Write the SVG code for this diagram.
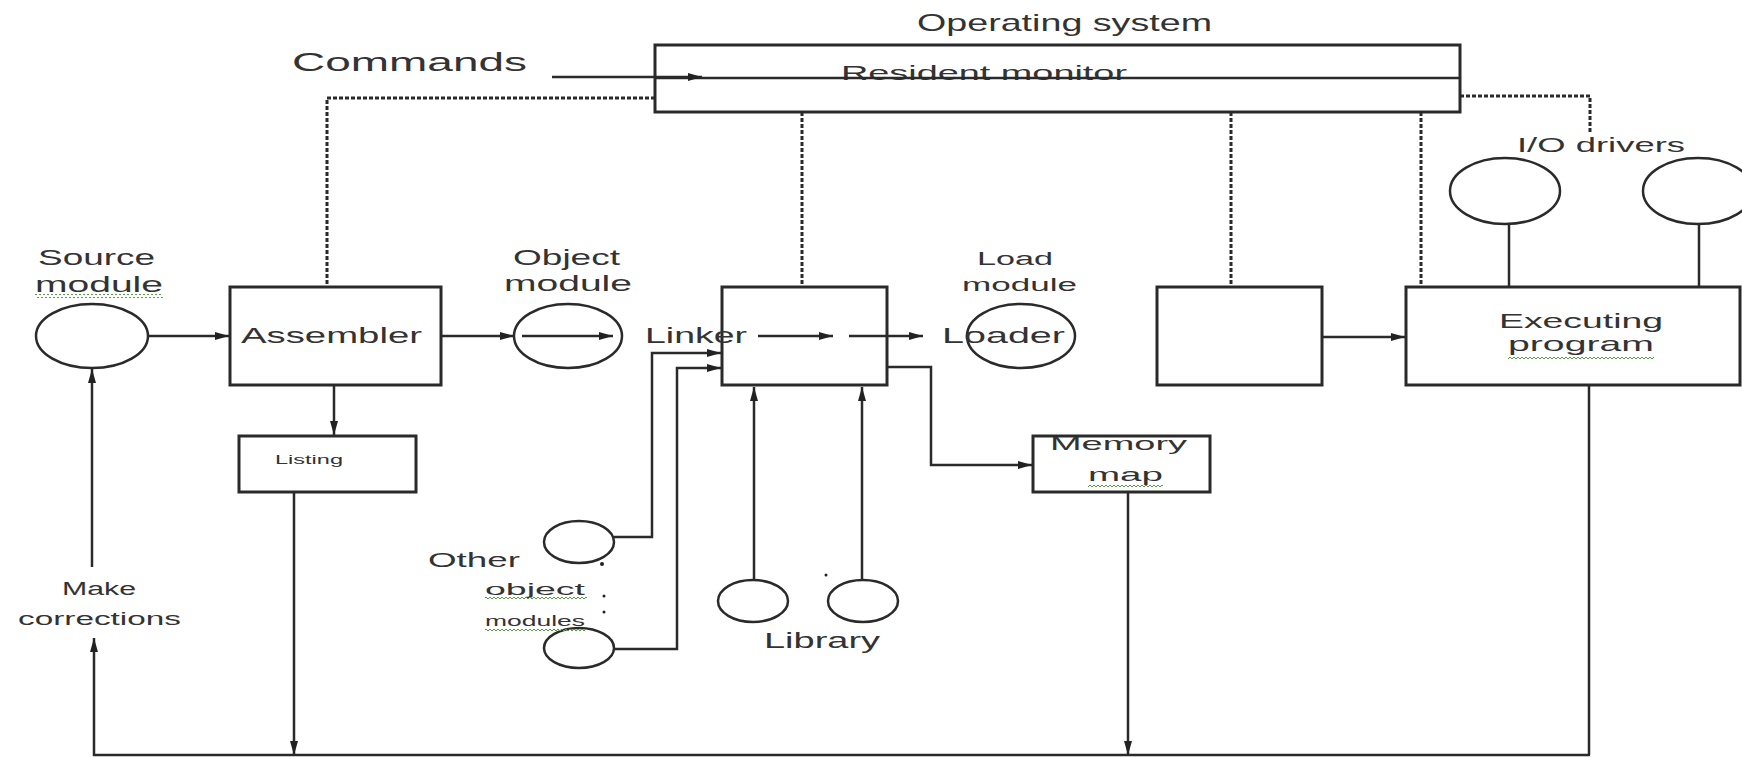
<svg xmlns="http://www.w3.org/2000/svg" width="1742" height="757" viewBox="0 0 1742 757">
<defs>
<marker id="ah" viewBox="0 0 14 8" refX="14" refY="4" markerWidth="14" markerHeight="8" markerUnits="userSpaceOnUse" orient="auto">
<path d="M0,0 L14,4 L0,8 z" fill="#222"/>
</marker>
<pattern id="sq" width="4" height="4" patternUnits="userSpaceOnUse">
<path d="M0,3 L2,1 L4,3" fill="none" stroke="#5a9a4a" stroke-width="1"/>
</pattern>
</defs>
<style>
.bx{fill:#fff;stroke:#2a2a2a;stroke-width:3}
.el{fill:#fff;stroke:#2a2a2a;stroke-width:2.5}
.ln{fill:none;stroke:#2a2a2a;stroke-width:2.5}
.ar{fill:none;stroke:#2a2a2a;stroke-width:2.5;marker-end:url(#ah)}
.ds{fill:none;stroke:#2a2a2a;stroke-width:3;stroke-dasharray:4 2}
.t{font-family:"Liberation Sans",Arial,sans-serif;fill:#333}
.sq{fill:url(#sq)}
</style>
<rect width="1742" height="757" fill="#fff"/>

<g id="os">
<text class="t" x="917" y="31" font-size="24" textLength="295" lengthAdjust="spacingAndGlyphs">Operating system</text>
<rect x="655" y="45" width="805" height="67" fill="none" stroke="#2a2a2a" stroke-width="3"/>
<text class="t" x="841" y="80" font-size="21" textLength="286" lengthAdjust="spacingAndGlyphs">Resident monitor</text>
<line class="ln" x1="655" y1="78" x2="1460" y2="78" stroke-width="3"/>
</g>

<g id="connectors">
<!-- commands -->
<line class="ar" x1="552" y1="77" x2="702" y2="77"/>
<!-- dashed OS links -->
<polyline class="ds" points="655,98 327,98 327,286"/>
<line class="ds" x1="802" y1="112" x2="802" y2="286"/>
<line class="ds" x1="1231" y1="112" x2="1231" y2="286"/>
<line class="ds" x1="1421" y1="112" x2="1421" y2="286"/>
<polyline class="ds" points="1460,96 1590,96 1590,132"/>
<!-- main flow -->
<line class="ar" x1="148" y1="336" x2="229" y2="336"/>
<line class="ar" x1="441" y1="336" x2="514" y2="336"/>
<line class="ar" x1="522" y1="336" x2="613" y2="336"/>
<line class="ar" x1="758" y1="336" x2="833" y2="336"/>
<line class="ar" x1="849" y1="336" x2="923" y2="336"/>
<line class="ar" x1="334" y1="386" x2="334" y2="435"/>
<polyline class="ar" points="614,537 652,537 652,353 721,353"/>
<polyline class="ar" points="614,649 677,649 677,368 721,368"/>
<line class="ar" x1="754" y1="580" x2="754" y2="387"/>
<line class="ar" x1="862" y1="580" x2="862" y2="387"/>
<polyline class="ar" points="887,367 931,367 931,465 1032,465"/>
<line class="ar" x1="1322" y1="337" x2="1405" y2="337"/>
<line class="ln" x1="1509" y1="223" x2="1509" y2="287"/>
<line class="ln" x1="1699" y1="223" x2="1699" y2="287"/>
<!-- feedback -->
<line class="ar" x1="294" y1="492" x2="294" y2="755"/>
<line class="ar" x1="1128" y1="492" x2="1128" y2="755"/>
<line class="ln" x1="1589" y1="385" x2="1589" y2="755"/>
<line class="ln" x1="93" y1="755" x2="1590" y2="755" stroke-width="3"/>
<line class="ar" x1="94" y1="756" x2="94" y2="638" stroke-width="3"/>
<line class="ar" x1="92" y1="567" x2="92" y2="369"/>
</g>

<g id="commands">
<text class="t" x="292" y="71" font-size="26" textLength="235" lengthAdjust="spacingAndGlyphs">Commands</text>
</g>

<g id="source-module">
<ellipse class="el" cx="92" cy="336" rx="56" ry="32"/>
<text class="t" x="38" y="265" font-size="22" textLength="117" lengthAdjust="spacingAndGlyphs">Source</text>
<text class="t" x="35" y="292" font-size="22" textLength="128" lengthAdjust="spacingAndGlyphs">module</text>
<rect class="sq" x="35" y="294" width="128" height="4"/>
</g>

<g id="assembler">
<rect class="bx" x="230" y="287" width="211" height="98"/>
<text class="t" x="241" y="343" font-size="22" textLength="181" lengthAdjust="spacingAndGlyphs">Assembler</text>
</g>

<g id="object-module">
<text class="t" x="513" y="265" font-size="22" textLength="107" lengthAdjust="spacingAndGlyphs">Object</text>
<text class="t" x="504" y="291" font-size="22" textLength="128" lengthAdjust="spacingAndGlyphs">module</text>
<ellipse cx="568" cy="336" rx="54" ry="32" fill="none" stroke="#2a2a2a" stroke-width="2.5"/>
</g>

<g id="linker">
<rect x="722" y="287" width="165" height="98" fill="none" stroke="#2a2a2a" stroke-width="3"/>
<text class="t" x="645" y="343" font-size="22" textLength="102" lengthAdjust="spacingAndGlyphs">Linker</text>
</g>

<g id="load-module">
<text class="t" x="977" y="265" font-size="18" textLength="76" lengthAdjust="spacingAndGlyphs">Load</text>
<text class="t" x="962" y="291" font-size="18" textLength="115" lengthAdjust="spacingAndGlyphs">module</text>
<ellipse cx="1021" cy="336" rx="54" ry="32" fill="none" stroke="#2a2a2a" stroke-width="2.5"/>
<text class="t" x="942" y="343" font-size="22" textLength="123" lengthAdjust="spacingAndGlyphs">Loader</text>
</g>

<g id="listing">
<rect class="bx" x="239" y="436" width="177" height="56"/>
<text class="t" x="275" y="464" font-size="12" textLength="68" lengthAdjust="spacingAndGlyphs">Listing</text>
</g>

<g id="memory-map">
<rect class="bx" x="1033" y="436" width="177" height="56"/>
<text class="t" x="1050" y="450" font-size="19" textLength="137" lengthAdjust="spacingAndGlyphs">Memory</text>
<text class="t" x="1088" y="481" font-size="19" textLength="75" lengthAdjust="spacingAndGlyphs">map</text>
<rect class="sq" x="1088" y="484" width="75" height="4"/>
</g>

<g id="other-object-modules">
<ellipse class="el" cx="579" cy="542" rx="35" ry="21"/>
<ellipse class="el" cx="579" cy="648" rx="35" ry="20"/>
<text class="t" x="428" y="567" font-size="21" textLength="92" lengthAdjust="spacingAndGlyphs">Other</text>
<text class="t" x="485" y="595" font-size="16" textLength="100" lengthAdjust="spacingAndGlyphs">object</text>
<text class="t" x="485" y="626" font-size="15" textLength="100" lengthAdjust="spacingAndGlyphs">modules</text>
<rect class="sq" x="485" y="597" width="102" height="4"/>
<rect class="sq" x="485" y="628" width="102" height="4"/>
<circle cx="602" cy="564" r="2" fill="#222"/>
<circle cx="604" cy="596" r="1.5" fill="#222"/>
<circle cx="604" cy="612" r="1.5" fill="#222"/>
</g>

<g id="library">
<ellipse class="el" cx="753" cy="601" rx="35" ry="21"/>
<ellipse class="el" cx="863" cy="601" rx="35" ry="21"/>
<circle cx="826" cy="575" r="1.5" fill="#222"/>
<text class="t" x="764" y="648" font-size="22" textLength="116" lengthAdjust="spacingAndGlyphs">Library</text>
</g>

<g id="blank-box">
<rect class="bx" x="1157" y="287" width="165" height="98"/>
</g>

<g id="executing-program">
<rect class="bx" x="1406" y="287" width="334" height="98"/>
<text class="t" x="1499" y="328" font-size="21" textLength="164" lengthAdjust="spacingAndGlyphs">Executing</text>
<text class="t" x="1508" y="351" font-size="21" textLength="146" lengthAdjust="spacingAndGlyphs">program</text>
<rect class="sq" x="1508" y="355" width="146" height="4"/>
</g>

<g id="io-drivers">
<text class="t" x="1517" y="152" font-size="21" textLength="168" lengthAdjust="spacingAndGlyphs">I/O drivers</text>
<ellipse class="el" cx="1505" cy="191" rx="55" ry="33"/>
<ellipse class="el" cx="1698" cy="191" rx="55" ry="33"/>
</g>

<g id="make-corrections">
<text class="t" x="62" y="595" font-size="18" textLength="74" lengthAdjust="spacingAndGlyphs">Make</text>
<text class="t" x="18" y="625" font-size="18" textLength="163" lengthAdjust="spacingAndGlyphs">corrections</text>
</g>
</svg>
